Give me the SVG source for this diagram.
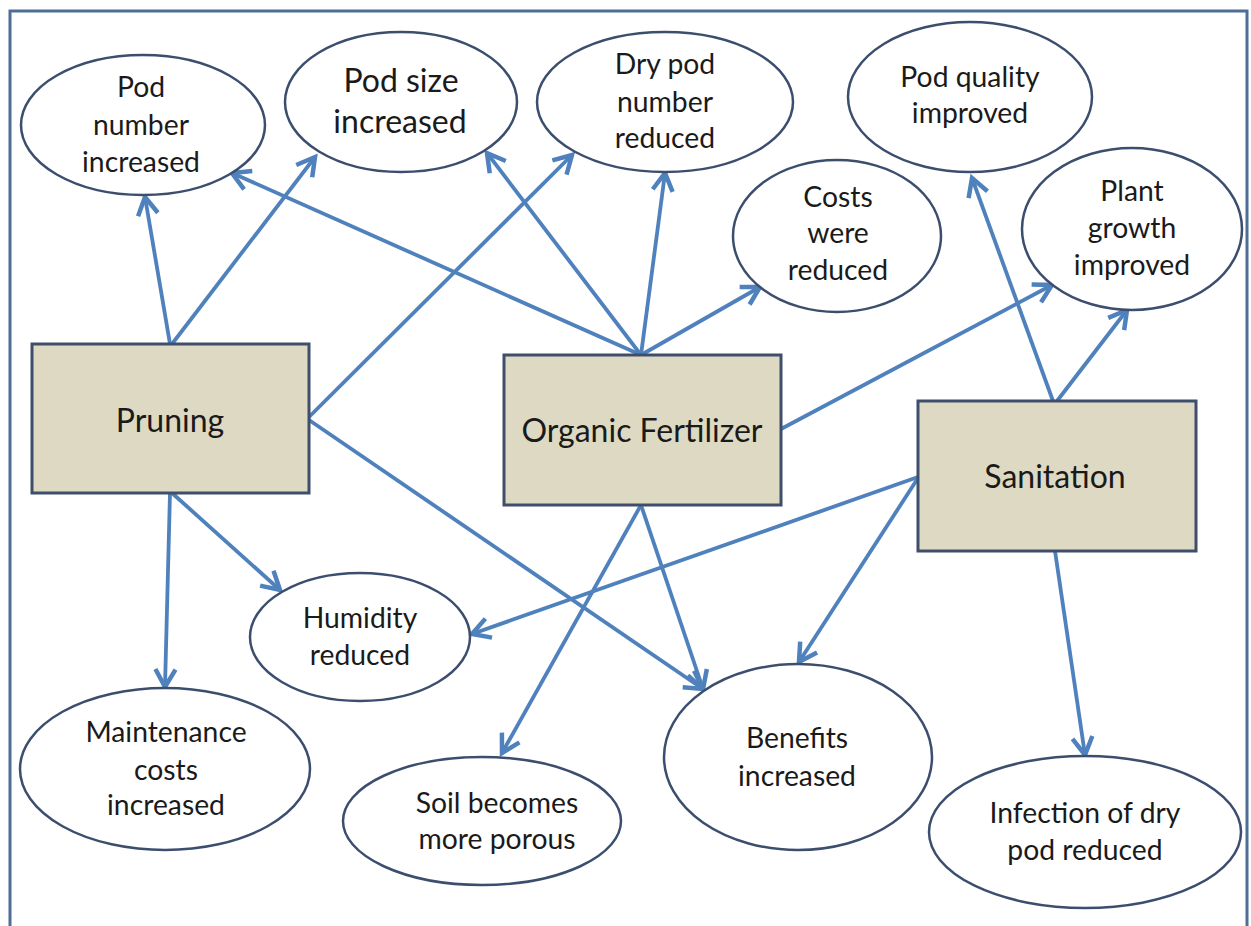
<svg xmlns="http://www.w3.org/2000/svg" width="1251" height="926" viewBox="0 0 1251 926">
<style>
.frame{fill:#fff;stroke:#4F6E96;stroke-width:3}
.el{fill:#fff;stroke:#3B4E6E;stroke-width:2.5}
.box{fill:#DDD9C3;stroke:#3F4F6B;stroke-width:3}
.t{font-family:Lato,"Open Sans",sans-serif;font-size:28.3px;fill:#1a1a1a;text-anchor:middle}
.bt{font-family:Lato,"Open Sans",sans-serif;font-size:32px;fill:#1a1a1a;text-anchor:middle}
.c line{stroke:#4F81BD;stroke-width:3.8;marker-end:url(#a)}
</style>
<defs>
<marker id="a" markerUnits="userSpaceOnUse" markerWidth="26" markerHeight="26" viewBox="-18 -11 22 22" refX="0" refY="0" orient="auto">
<path d="M-15,-8.5 L0,0 L-15,8.5" fill="none" stroke="#4F81BD" stroke-width="3.8"/>
</marker>
</defs>
<rect class="frame" x="10" y="11" width="1237" height="930"/>
<g id="connectors" class="c">
<line x1="170" y1="344" x2="145" y2="197"/>
<line x1="172" y1="344" x2="315" y2="157"/>
<line x1="309" y1="417" x2="572" y2="155"/>
<line x1="309" y1="420" x2="703" y2="689"/>
<line x1="172" y1="493" x2="280" y2="590"/>
<line x1="170" y1="493" x2="165" y2="687"/>
<line x1="641" y1="355" x2="232" y2="173"/>
<line x1="641" y1="355" x2="487" y2="153"/>
<line x1="641" y1="355" x2="665" y2="173"/>
<line x1="641" y1="355" x2="760" y2="287"/>
<line x1="781" y1="429" x2="1052" y2="285"/>
<line x1="641" y1="505" x2="502" y2="753"/>
<line x1="641" y1="505" x2="703" y2="689"/>
<line x1="1053" y1="401" x2="972" y2="178"/>
<line x1="1057" y1="401" x2="1127" y2="310"/>
<line x1="918" y1="477" x2="472" y2="634"/>
<line x1="918" y1="478" x2="799" y2="662"/>
<line x1="1055" y1="551" x2="1085" y2="755"/>
</g>
<g id="pod-number">
<ellipse class="el" cx="143" cy="125" rx="122" ry="70"/>
<text class="t" x="141" y="97">Pod</text><text class="t" x="141" y="135">number</text><text class="t" x="141" y="172">increased</text>
</g>
<g id="pod-size">
<ellipse class="el" cx="401" cy="102" rx="116" ry="70"/>
<text class="t" x="401" y="92" style="font-size:32px">Pod size</text><text class="t" x="400" y="133" style="font-size:32px">increased</text>
</g>
<g id="dry-pod">
<ellipse class="el" cx="665" cy="102" rx="128" ry="70"/>
<text class="t" x="665" y="74">Dry pod</text><text class="t" x="665" y="112">number</text><text class="t" x="665" y="148">reduced</text>
</g>
<g id="costs">
<ellipse class="el" cx="837" cy="236" rx="104" ry="76"/>
<text class="t" x="838" y="207">Costs</text><text class="t" x="838" y="243">were</text><text class="t" x="838" y="280">reduced</text>
</g>
<g id="pod-quality">
<ellipse class="el" cx="970" cy="97" rx="122" ry="75"/>
<text class="t" x="970" y="87">Pod quality</text><text class="t" x="970" y="123">improved</text>
</g>
<g id="plant-growth">
<ellipse class="el" cx="1132" cy="229" rx="110" ry="81"/>
<text class="t" x="1132" y="201">Plant</text><text class="t" x="1132" y="238">growth</text><text class="t" x="1132" y="275">improved</text>
</g>
<g id="pruning">
<rect class="box" x="32" y="344" width="277" height="149"/>
<text class="bt" x="170" y="432">Pruning</text>
</g>
<g id="organic-fertilizer">
<rect class="box" x="504" y="355" width="277" height="150"/>
<text class="bt" x="642" y="442">Organic Fertilizer</text>
</g>
<g id="sanitation">
<rect class="box" x="918" y="401" width="278" height="150"/>
<text class="bt" x="1055" y="488">Sanitation</text>
</g>
<g id="humidity">
<ellipse class="el" cx="360" cy="637" rx="110" ry="64"/>
<text class="t" x="360" y="628">Humidity</text><text class="t" x="360" y="665">reduced</text>
</g>
<g id="maintenance">
<ellipse class="el" cx="165" cy="769" rx="145" ry="81"/>
<text class="t" x="166" y="742">Maintenance</text><text class="t" x="166" y="780">costs</text><text class="t" x="166" y="815">increased</text>
</g>
<g id="soil">
<ellipse class="el" cx="482" cy="821" rx="139" ry="64"/>
<text class="t" x="497" y="813">Soil becomes</text><text class="t" x="497" y="849">more porous</text>
</g>
<g id="benefits">
<ellipse class="el" cx="798" cy="757" rx="134" ry="93"/>
<text class="t" x="797" y="748">Benefits</text><text class="t" x="797" y="786">increased</text>
</g>
<g id="infection">
<ellipse class="el" cx="1085" cy="832" rx="156" ry="76"/>
<text class="t" x="1085" y="823">Infection of dry</text><text class="t" x="1085" y="860">pod reduced</text>
</g>
</svg>
